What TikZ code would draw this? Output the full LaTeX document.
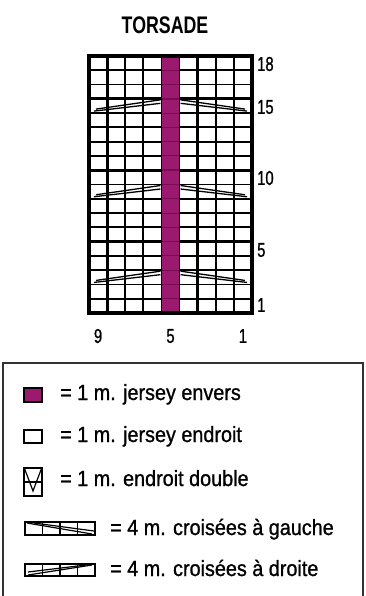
\documentclass[tikz,border=0pt]{standalone}
\usepackage{fontspec}
\setmainfont{Liberation Sans}
\newfontfamily\legfont[FakeStretch=0.9,FakeBold=1]{Liberation Sans}
\newfontfamily\titfont[FakeStretch=0.74]{Liberation Sans}
\newfontfamily\numfont[FakeStretch=0.74,FakeBold=1]{Liberation Sans}
\definecolor{purp}{RGB}{155,25,110}
\definecolor{purpdark}{RGB}{120,12,82}
\definecolor{boxline}{RGB}{50,50,50}
\tikzset{
  thinline/.style={line width=1.8pt, black},
  thickline/.style={line width=3.2pt, black},
  cableline/.style={line width=1.3pt, black},
  rowlabel/.style={inner sep=0pt, anchor=west, font=\numfont\fontsize{20}{22}\selectfont},
  collabel/.style={inner sep=0pt, anchor=center, font=\numfont\fontsize{20}{22}\selectfont},
  legtext/.style={inner sep=0pt, anchor=base west, font=\legfont\fontsize{22}{26}\selectfont},
  symline/.style={line width=1.2pt, black},
}
\begin{document}
\begin{tikzpicture}[x=1pt,y=-1pt]
\useasboundingbox (0,0) rectangle (366,596);
\def\cw{18.111}
\def\ch{14.278}
% title
\node[inner sep=0pt, font=\titfont\bfseries\fontsize{24}{26}\selectfont] (title) at (165,25) {TORSADE};
% purple column
\fill[purp] (89+4*\cw,56) rectangle (89+5*\cw,313);
% horizontal lines
\foreach \j in {1,2,4,5,6,7,9,10,11,12,14,15,16,17} {
  \draw[thinline] (89,56+\j*\ch) -- (89+4*\cw,56+\j*\ch);
  \draw[thinline] (89+5*\cw,56+\j*\ch) -- (252,56+\j*\ch);
  \draw[line width=1pt, purpdark] (89+4*\cw,56+\j*\ch) -- (89+5*\cw,56+\j*\ch);
}
\foreach \j in {3,8,13} {
  \draw[thickline] (89,56+\j*\ch) -- (89+4*\cw,56+\j*\ch);
  \draw[thickline] (89+5*\cw,56+\j*\ch) -- (252,56+\j*\ch);
  \draw[line width=1.6pt, purpdark] (89+4*\cw,56+\j*\ch) -- (89+5*\cw,56+\j*\ch);
}
% vertical lines
\foreach \i in {2,3,4,5,7,8} {
  \draw[thinline] (89+\i*\cw,56) -- (89+\i*\cw,313);
}
\foreach \i in {1,6} {
  \draw[thickline] (89+\i*\cw,56) -- (89+\i*\cw,313);
}
\draw[thickline] (89,56) rectangle (252,313);
% cables (rows 3, 9, 15)
\foreach \r in {3,9,15} {
  \pgfmathsetmacro{\yt}{313-\r*\ch}
  \pgfmathsetmacro{\yb}{\yt+\ch}
  \draw[cableline] (94,\yb-2) -- (89+4*\cw-1,\yt+4.5);
  \draw[cableline] (96,\yb-4) -- (89+4*\cw-1,\yt+1);
  \draw[cableline] (247,\yb-2) -- (89+5*\cw+1,\yt+4.5);
  \draw[cableline] (245,\yb-4) -- (89+5*\cw+1,\yt+1);
}
% row labels
\node[rowlabel] (r18) at (257,64) {18};
\node[rowlabel] (r15) at (257,107) {15};
\node[rowlabel] (r10) at (257,178) {10};
\node[rowlabel] (r5) at (257,250) {5};
\node[rowlabel] (r1) at (257,305) {1};
% column labels
\node[collabel] (c9) at (89+0.5*\cw,336) {9};
\node[collabel] (c5) at (89+4.5*\cw,336) {5};
\node[collabel] (c1) at (89+8.5*\cw,336) {1};
% legend box
\draw[line width=2pt, boxline] (3,597) -- (3,363) -- (363,363) -- (363,597);
% legend 1
\draw[line width=1.2pt, black, fill=purp] (24,388) rectangle (42,402);
\node[legtext] (l1) at (60,400) {= 1 m. jersey envers};
% legend 2
\draw[line width=1.2pt, black, fill=white] (24,430) rectangle (42,443);
\node[legtext] (l2) at (60,442) {= 1 m. jersey endroit};
% legend 3
\draw[symline] (24,468) rectangle (42,496);
\draw[symline] (24,482) -- (42,482);
\draw[symline] (24.5,468.5) -- (33,491) -- (41.5,468.5);
\node[legtext] (l3) at (60,486) {= 1 m. endroit double};
% legend 4
\draw[symline] (25,522) rectangle (95,535);
\foreach \k in {1,2,3} {\draw[symline] (25+\k*17.5,522) -- (25+\k*17.5,535);}
\draw[symline] (27,523) -- (92,534);
\draw[symline] (34,523) -- (94,531);
\node[legtext] (l4) at (110,535) {= 4 m. croisées à gauche};
% legend 5
\draw[symline] (25,564) rectangle (95,576);
\foreach \k in {1,2,3} {\draw[symline] (25+\k*17.5,564) -- (25+\k*17.5,576);}
\draw[symline] (28,575) -- (92,565);
\draw[symline] (28,572) -- (86,565);
\node[legtext] (l5) at (110,576) {= 4 m. croisées à droite};
\end{tikzpicture}
\end{document}
